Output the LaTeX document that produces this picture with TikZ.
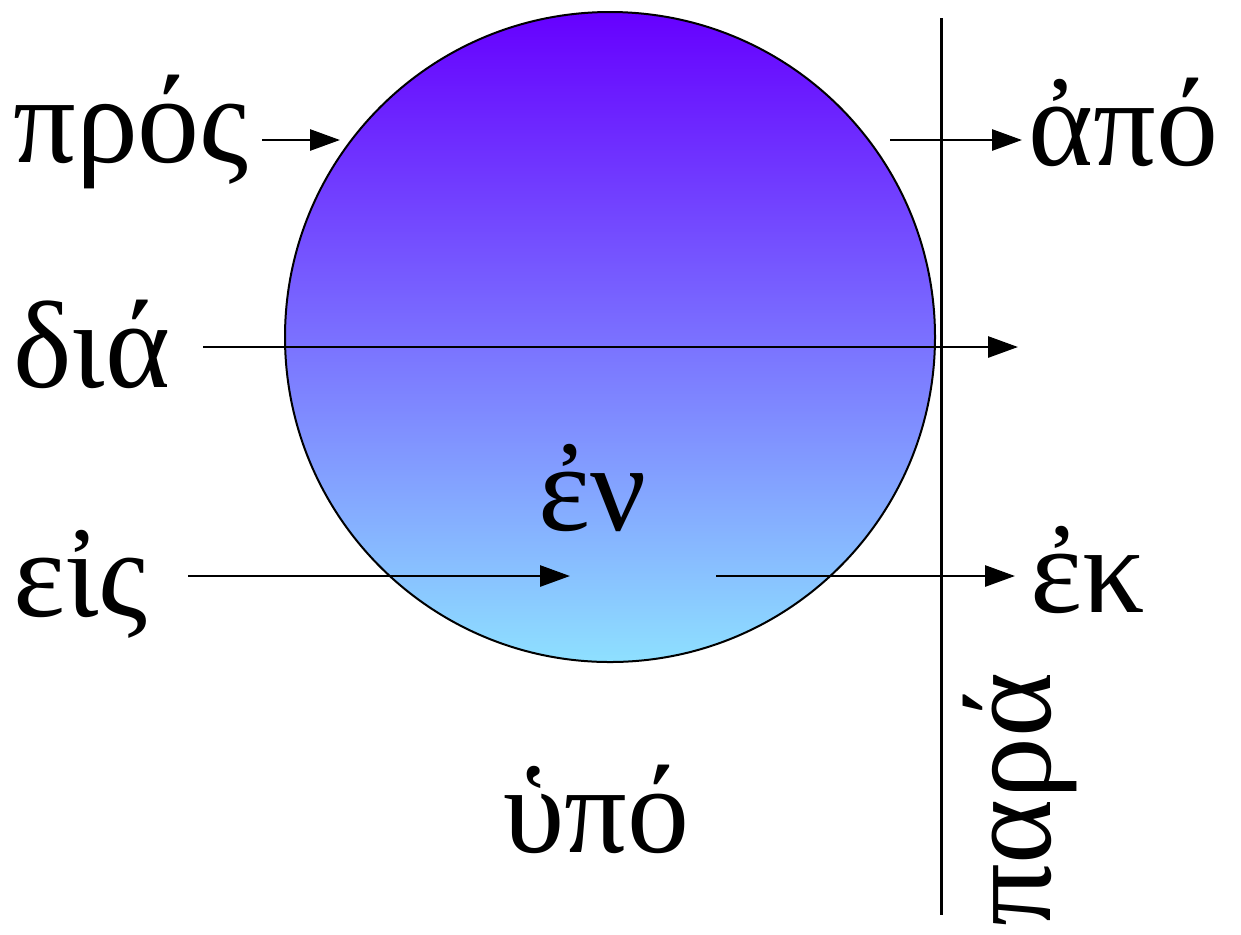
\documentclass[tikz,border=0pt]{standalone}
\usepackage{fontspec}
\setmainfont{Liberation Serif}
\usetikzlibrary{arrows.meta}

\definecolor{topviolet}{HTML}{6600FF}
\definecolor{midviolet}{HTML}{8080FF}
\definecolor{botcyan}{HTML}{8EE0FF}

\begin{document}
\begin{tikzpicture}[
  x=0.5pt, y=-0.5pt,
  word/.style={inner sep=0pt, anchor=base west, font=\fontsize{62}{70}\selectfont},
  arrow/.style={-{Triangle[length=15pt,width=10.5pt]}, line width=1.4pt},
  rule/.style={line width=1.5pt}
]
\useasboundingbox (0,0) rectangle (1241,934);
% the sphere
\shade[top color=topviolet, middle color=midviolet, bottom color=botcyan, draw=black, line width=1pt]
  (610,337) circle[radius=325];
\coordinate (sphere) at (610,337);
% the boundary line
\coordinate (ruletop) at (941,18);
\coordinate (rulebot) at (941,915);
\draw[rule] (ruletop) -- (rulebot);
% words
\node[word] (pros) at (13,162) {πρός};
\node[word] (apo) at (1028,165) {ἀπό};
\node[word] (dia) at (13,387) {διά};
\node[word] (eis) at (13,616) {εἰς};
\node[word] (en) at (538,530) {ἐν};
\node[word] (ek) at (1030,612) {ἐκ};
\node[word] (hypo) at (503,852) {ὑπό};
\node[word, rotate=90] (para) at (1050,927) {παρά};
% arrow ends
\coordinate (prosA) at (262,140);
\coordinate (prosB) at (340,140);
\coordinate (apoA) at (890,140);
\coordinate (apoB) at (1022,140);
\coordinate (diaA) at (203,347);
\coordinate (diaB) at (1018,347);
\coordinate (eisA) at (188,576);
\coordinate (eisB) at (570,576);
\coordinate (ekA) at (716,576);
\coordinate (ekB) at (1015,576);
\draw[arrow] (prosA) -- (prosB);
\draw[arrow] (apoA) -- (apoB);
\draw[arrow] (diaA) -- (diaB);
\draw[arrow] (eisA) -- (eisB);
\draw[arrow] (ekA) -- (ekB);
\end{tikzpicture}
\end{document}
